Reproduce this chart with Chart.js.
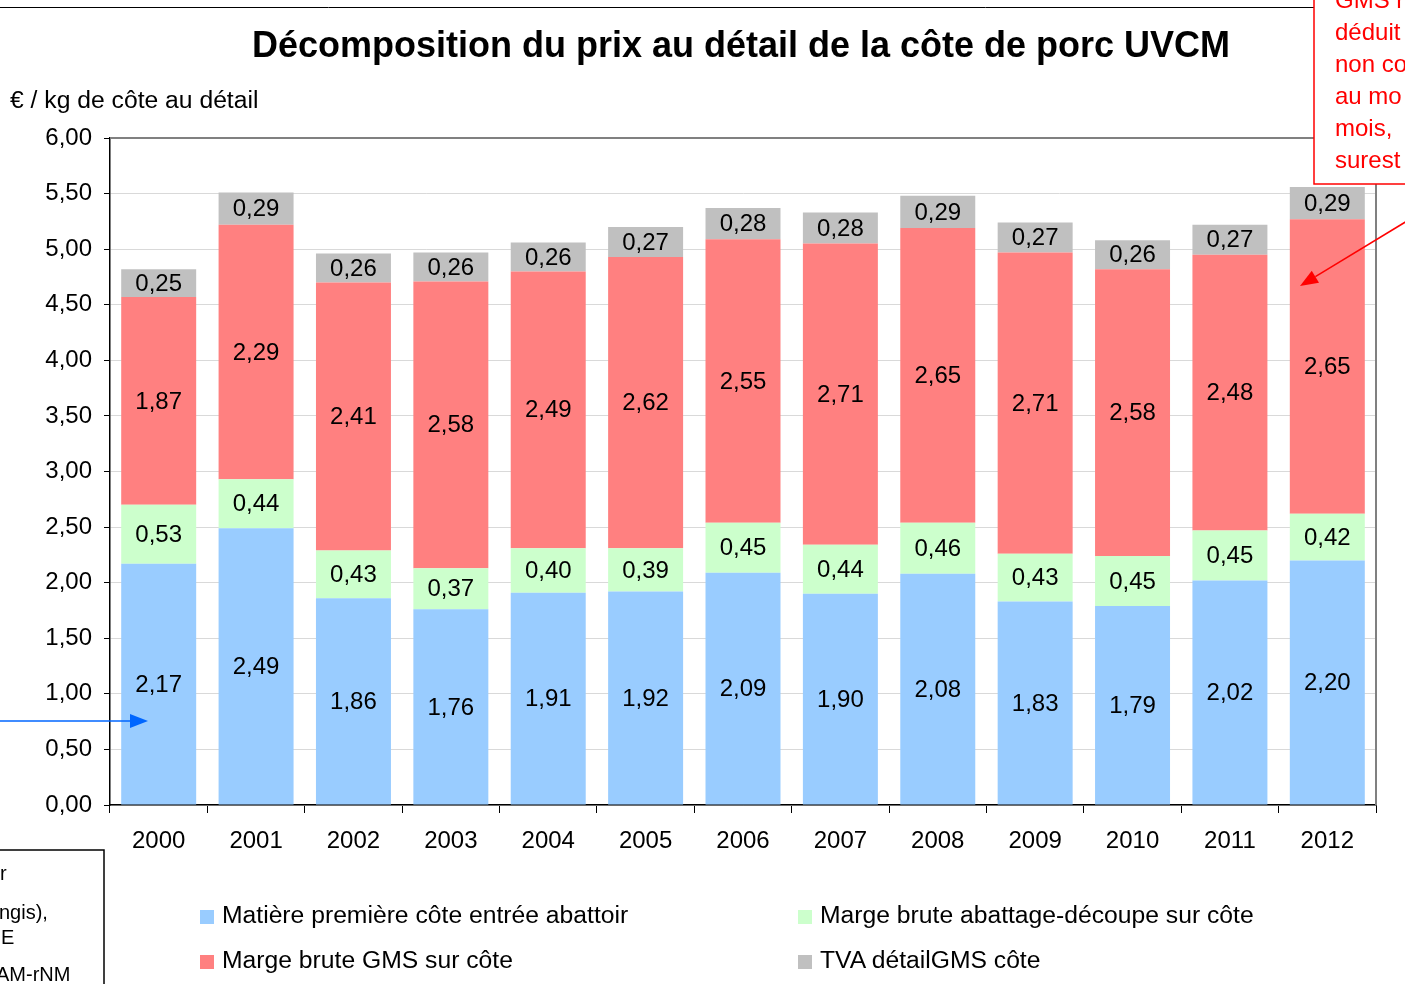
<!DOCTYPE html>
<html>
<head>
<meta charset="utf-8">
<script src="https://cdn.jsdelivr.net/npm/chart.js@4.4.1/dist/chart.umd.min.js"></script>
<style>
  html, body { margin: 0; padding: 0; background: #fff; overflow: hidden; }
  #wrap { position: relative; width: 1405px; height: 984px; }
  #chart { position: absolute; left: 0; top: 0; }
  .leg { position: absolute; font: 24.7px "Liberation Sans", Arial, sans-serif; color: #000; white-space: nowrap; }
  .leg span { display: inline-block; width: 14px; height: 14px; margin-right: 8px; vertical-align: -1px; }
</style>
</head>
<body>
<div id="wrap">
  <canvas id="chart" width="1405" height="984"></canvas>
  <div id="legend"></div>
</div>
<script>
const years = ['2000','2001','2002','2003','2004','2005','2006','2007','2008','2009','2010','2011','2012'];
const matierePremiere = [2.17, 2.49, 1.86, 1.76, 1.91, 1.92, 2.09, 1.90, 2.08, 1.83, 1.79, 2.02, 2.20];
const margeAbattage   = [0.53, 0.44, 0.43, 0.37, 0.40, 0.39, 0.45, 0.44, 0.46, 0.43, 0.45, 0.45, 0.42];
const margeGMS        = [1.87, 2.29, 2.41, 2.58, 2.49, 2.62, 2.55, 2.71, 2.65, 2.71, 2.58, 2.48, 2.65];
const tvaDetail       = [0.25, 0.29, 0.26, 0.26, 0.26, 0.27, 0.28, 0.28, 0.29, 0.27, 0.26, 0.27, 0.29];

const seriesNames = [
    'Matière première côte entrée abattoir',
    'Marge brute abattage-découpe sur côte',
    'Marge brute GMS sur côte',
    'TVA détailGMS côte'
];
const seriesColors = ['#99CCFF', '#CCFFCC', '#FF8080', '#C0C0C0'];

const FONT = '"Liberation Sans", Arial, sans-serif';
const fmt = v => v.toFixed(2).replace('.', ',');

// valeurs au centre de chaque segment
const valueLabels = {
    id: 'valueLabels',
    afterDatasetsDraw(chart) {
        const ctx = chart.ctx;
        ctx.save();
        ctx.font = '24px ' + FONT;
        ctx.fillStyle = '#000';
        ctx.textAlign = 'center';
        ctx.textBaseline = 'middle';
        chart.data.datasets.forEach((ds, i) => {
            chart.getDatasetMeta(i).data.forEach((bar, j) => {
                ctx.fillText(fmt(ds.data[j]), bar.x, (bar.y + bar.base) / 2 + 1);
            });
        });
        ctx.restore();
    }
};

// titre, unité, cadre et éléments de la page autour du graphique
const decorations = {
    id: 'decorations',
    afterDraw(chart) {
        const ctx = chart.ctx;
        const a = chart.chartArea;
        ctx.save();

        // bord haut et droit gris de la zone de tracé
        ctx.strokeStyle = '#808080';
        ctx.lineWidth = 2;
        ctx.beginPath();
        ctx.moveTo(a.left, a.top);
        ctx.lineTo(a.right, a.top);
        ctx.lineTo(a.right, a.bottom);
        ctx.stroke();

        // titre
        ctx.fillStyle = '#000';
        ctx.font = 'bold 36px ' + FONT;
        ctx.textAlign = 'center';
        ctx.textBaseline = 'middle';
        ctx.fillText('Décomposition du prix au détail de la côte de porc UVCM', 741, 47);

        // unité
        ctx.font = '24.7px ' + FONT;
        ctx.textAlign = 'left';
        ctx.fillText('€ / kg de côte au détail', 10, 101);

        // ligne du haut de page
        ctx.strokeStyle = '#000';
        ctx.lineWidth = 1;
        ctx.beginPath();
        ctx.moveTo(0, 7.5);
        ctx.lineTo(1314, 7.5);
        ctx.stroke();

        // encadré rouge
        ctx.fillStyle = '#fff';
        ctx.fillRect(1314, -5, 120, 189);
        ctx.strokeStyle = '#FF0000';
        ctx.lineWidth = 1.5;
        ctx.strokeRect(1314, -5, 120, 189);
        ctx.fillStyle = '#FF0000';
        ctx.font = '24px ' + FONT;
        ['GMS r', 'déduit', 'non co', 'au mo', 'mois,', 'surest'].forEach((t, i) => {
            ctx.fillText(t, 1335, i * 32 + 1);
        });

        // flèche rouge
        drawArrow(ctx, 1412, 218, 1300, 286, '#FF0000', 1.5);
        // flèche bleue
        drawArrow(ctx, -2, 721, 148, 721, '#0066FF', 1.5);

        // encadré noir en bas à gauche
        ctx.strokeStyle = '#000';
        ctx.lineWidth = 1.5;
        ctx.strokeRect(-5, 850, 109, 150);
        ctx.fillStyle = '#000';
        ctx.font = '20px ' + FONT;
        ctx.fillText('r', 0, 874);
        ctx.fillText('ngis),', -1, 913);
        ctx.fillText('E', 1, 938);
        ctx.fillText('AM-rNM', -4, 975);

        ctx.restore();
    }
};

function drawArrow(ctx, x1, y1, x2, y2, color, w) {
    const ang = Math.atan2(y2 - y1, x2 - x1);
    const len = 18, half = 7;
    const bx = x2 - len * Math.cos(ang), by = y2 - len * Math.sin(ang);
    ctx.strokeStyle = color;
    ctx.fillStyle = color;
    ctx.lineWidth = w;
    ctx.beginPath();
    ctx.moveTo(x1, y1);
    ctx.lineTo(bx, by);
    ctx.stroke();
    ctx.beginPath();
    ctx.moveTo(x2, y2);
    ctx.lineTo(bx + half * Math.sin(ang), by - half * Math.cos(ang));
    ctx.lineTo(bx - half * Math.sin(ang), by + half * Math.cos(ang));
    ctx.closePath();
    ctx.fill();
}

const seriesData = [matierePremiere, margeAbattage, margeGMS, tvaDetail];

const chart = new Chart(document.getElementById('chart'), {
    type: 'bar',
    data: {
        labels: years,
        datasets: seriesData.map((d, i) => ({
            label: seriesNames[i],
            data: d,
            backgroundColor: seriesColors[i],
            borderWidth: 0,
            barPercentage: 0.77,
            categoryPercentage: 1
        }))
    },
    options: {
        responsive: false,
        animation: false,
        devicePixelRatio: 1,
        layout: { padding: { left: 0, top: 138, right: 29, bottom: 0 } },
        plugins: {
            legend: { display: false },
            title: { display: false },
            tooltip: { enabled: false }
        },
        scales: {
            x: {
                stacked: true,
                afterFit: s => { s.height = 179; },
                border: { color: '#000', width: 1.5 },
                grid: { offset: true, drawOnChartArea: false, tickLength: 8, tickColor: '#000' },
                ticks: { color: '#000', padding: 14, font: { family: FONT, size: 24 } }
            },
            y: {
                stacked: true,
                min: 0,
                max: 6,
                afterFit: s => { s.width = 110; },
                border: { color: '#000', width: 1.5 },
                grid: { color: '#D9D9D9', tickLength: 6, tickColor: '#000' },
                ticks: {
                    stepSize: 0.5,
                    color: '#000',
                    padding: 12,
                    font: { family: FONT, size: 24 },
                    callback: v => fmt(v)
                }
            }
        }
    },
    plugins: [valueLabels, decorations]
});

// légende sur deux colonnes
const legPos = [[200, 901], [798, 901], [200, 946], [798, 946]];
const legend = document.getElementById('legend');
chart.data.datasets.forEach((ds, k) => {
    const el = document.createElement('div');
    el.className = 'leg';
    el.style.left = legPos[k][0] + 'px';
    el.style.top = legPos[k][1] + 'px';
    el.innerHTML = '<span style="background:' + ds.backgroundColor + '"></span>' + ds.label;
    legend.appendChild(el);
});
</script>
</body>
</html>
